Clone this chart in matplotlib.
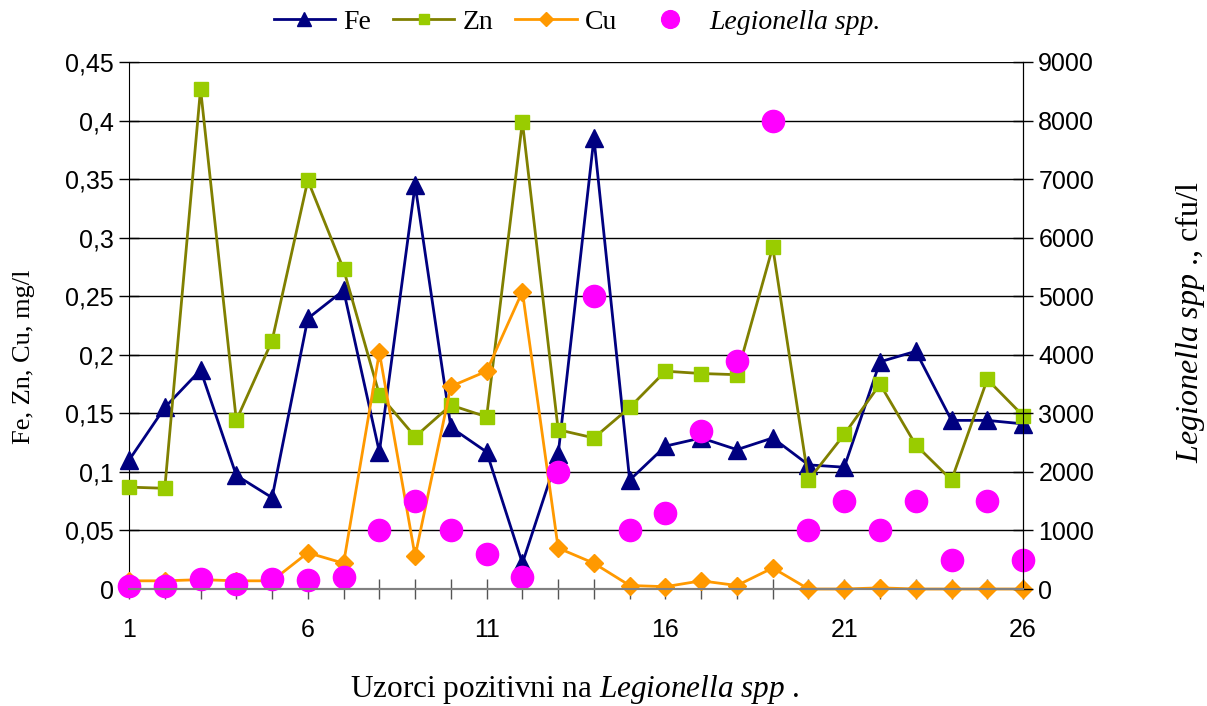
import matplotlib
matplotlib.use('Agg')
import matplotlib.pyplot as plt
import numpy as np

# sample numbers 1..26
samples = list(range(1, 27))

fe = [0.110, 0.155, 0.187, 0.097, 0.078, 0.231, 0.255, 0.117, 0.345, 0.138,
      0.117, 0.022, 0.115, 0.385, 0.093, 0.122, 0.129, 0.119, 0.129, 0.106,
      0.104, 0.194, 0.203, 0.144, 0.144, 0.141]
zn = [0.087, 0.086, 0.427, 0.144, 0.212, 0.349, 0.273, 0.166, 0.130, 0.157,
      0.147, 0.399, 0.136, 0.129, 0.155, 0.186, 0.184, 0.183, 0.292, 0.093,
      0.132, 0.175, 0.123, 0.093, 0.179, 0.148]
cu = [0.007, 0.007, 0.008, 0.007, 0.007, 0.031, 0.022, 0.202, 0.028, 0.173,
      0.186, 0.254, 0.035, 0.022, 0.003, 0.002, 0.007, 0.003, 0.018, 0.0,
      0.0, 0.001, 0.0, 0.0, 0.0, 0.0]
legionella = [50, 50, 170, 90, 170, 160, 200, 1000, 1500, 1000,
              600, 200, 2000, 5000, 1000, 1300, 2700, 3900, 8000, 1000,
              1500, 1000, 1500, 500, 1500, 500]

left_ticks = [0, 0.05, 0.1, 0.15, 0.2, 0.25, 0.3, 0.35, 0.4, 0.45]
left_labels = ['0', '0,05', '0,1', '0,15', '0,2', '0,25', '0,3', '0,35', '0,4', '0,45']
right_ticks = [0, 1000, 2000, 3000, 4000, 5000, 6000, 7000, 8000, 9000]
x_labels = [str(s) if (s - 1) % 5 == 0 else '' for s in samples]

plt.rcParams['mathtext.fontset'] = 'custom'
plt.rcParams['mathtext.rm'] = 'Liberation Serif'
plt.rcParams['mathtext.it'] = 'Liberation Serif:italic'

fig = plt.figure(figsize=(12.07, 7.06), dpi=100)
ax = fig.add_axes([0.1069, 0.1657, 0.8476 - 0.1069, 0.9122 - 0.1657])
ax2 = ax.twinx()

l1, = ax.plot(samples, fe, color='#000080', lw=2, marker='^', ms=12.5,
              mfc='#000080', mec='#000080', label='Fe', clip_on=False, zorder=3)
l2, = ax.plot(samples, zn, color='#808000', lw=2, marker='s', ms=9.5,
              mfc='#99CC00', mec='#99CC00', label='Zn', clip_on=False, zorder=4)
l3, = ax.plot(samples, cu, color='#FF9900', lw=2, marker='D', ms=9.5,
              mfc='#FF9900', mec='#FF9900', label='Cu', clip_on=False, zorder=5)
l4, = ax2.plot(samples, legionella, ls='none', marker='o', ms=16,
               mfc='#FF00FF', mec='#FF00FF', label='Legionella spp.', clip_on=False)

ax.set_xlim(1, 26)
ax.set_ylim(0, 0.45)
ax2.set_ylim(0, 9000)

ax.set_yticks(left_ticks)
ax.set_yticklabels(left_labels, fontsize=18, family='Liberation Sans')
ax2.set_yticks(right_ticks)
ax2.set_yticklabels([str(t) for t in right_ticks], fontsize=18, family='Liberation Sans')
ax.set_xticks(samples)
ax.set_xticklabels(x_labels, fontsize=18, family='Liberation Sans')

ax.grid(axis='y', color='black', lw=1)
ax.set_axisbelow(True)
ax.tick_params(axis='y', direction='inout', length=14, width=1, pad=4)
ax.tick_params(axis='x', direction='inout', length=14, width=1, color='#555555', pad=14)
ax2.tick_params(axis='y', direction='inout', length=14, width=1, pad=4)

for a in (ax, ax2):
    a.spines['top'].set_visible(False)
    a.spines['bottom'].set_color('#808080')
    a.spines['bottom'].set_linewidth(1.5)
ax2.spines['left'].set_visible(False)

fig.text(0.02, 0.494, 'Fe, Zn, Cu, mg/l', rotation=90, ha='center', va='center',
         fontsize=19, family='Liberation Serif')
fig.text(0.986, 0.544, r'$\it{Legionella\ spp}$ ., cfu/l', rotation=90, ha='center',
         va='center', fontsize=23, family='Liberation Serif')
fig.text(0.476, 0.023, r'Uzorci pozitivni na $\it{Legionella\ spp}$ .', ha='center',
         va='center', fontsize=22.5, family='Liberation Serif')

leg = fig.legend(handles=[l1, l2, l3, l4], loc='center', bbox_to_anchor=(0.478, 0.969),
                 ncol=4, frameon=False, prop={'family': 'Liberation Serif', 'size': 20},
                 handlelength=2.2, handletextpad=0.3, columnspacing=0.8, markerscale=0.8)
leg.get_texts()[3].set_style('italic')

fig.savefig('out.png', dpi=100)
